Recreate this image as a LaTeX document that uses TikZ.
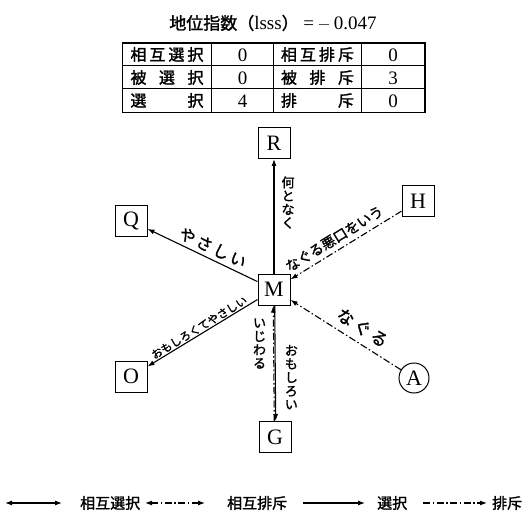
\documentclass[tikz,border=0pt]{standalone}
\usepackage{fontspec}
\setmainfont{Liberation Serif}
\newfontfamily\cjk[AutoFakeBold=1.6]{Noto Sans CJK JP}
\usetikzlibrary{arrows.meta}
\newcommand\jdist[1]{\makebox[73pt][s]{#1}}
\tikzset{
  lt/.style={draw, line width=1pt, minimum width=32pt, minimum height=31pt, inner sep=0pt, font=\fontsize{22}{22}\selectfont},
  circ/.style={draw, circle, line width=1pt, minimum size=30pt, inner sep=0pt, font=\fontsize{22}{22}\selectfont},
  tip/.style={-{Latex[length=7pt,width=5pt]}},
  sel/.style={line width=1.1pt, tip},
  rej/.style={line width=1.1pt, dash pattern=on 7pt off 2.5pt on 1.5pt off 2.5pt, tip},
  jl/.style={font=\cjk\bfseries\fontsize{13}{13.5}\selectfont, inner sep=1pt, align=center},
  cell/.style={font=\cjk\bfseries\fontsize{16}{16}\selectfont, inner sep=0pt},
  num/.style={font=\fontsize{19}{19}\selectfont, inner sep=0pt},
  leg/.style={font=\cjk\bfseries\fontsize{15}{15}\selectfont, inner sep=0pt, anchor=west},
}
\begin{document}
\begin{tikzpicture}[x=1pt,y=-1pt]
\useasboundingbox (0,0) rectangle (523,519);
% title
\node[inner sep=0pt, font=\fontsize{19}{19}\selectfont] (title) at (273,23) {{\cjk\bfseries\fontsize{17}{17}\selectfont 地位指数（}lsss{\cjk\bfseries\fontsize{17}{17}\selectfont ）}\ =\,$-$\,0.047};
% table
\draw[line width=1.5pt] (122.7,43) rectangle (425,112.5);
\draw[line width=1pt] (122.7,66) -- (425,66) (122.7,89) -- (425,89);
\draw[line width=1.2pt] (211.7,43) -- (211.7,112.5) (273.3,43) -- (273.3,112.5) (361.7,43) -- (361.7,112.5);
\node[cell] (a1) at (167,54.5) {\jdist{相\hfill 互\hfill 選\hfill 択}};
\node[cell] (a2) at (167,77.5) {\jdist{被\hfill 選\hfill 択}};
\node[cell] (a3) at (167,100.5) {\jdist{選\hfill 択}};
\node[num] (b1) at (242.5,55) {0};
\node[num] (b2) at (242.5,78) {0};
\node[num] (b3) at (242.5,101) {4};
\node[cell] (c1) at (317.5,54.5) {\jdist{相\hfill 互\hfill 排\hfill 斥}};
\node[cell] (c2) at (317.5,77.5) {\jdist{被\hfill 排\hfill 斥}};
\node[cell] (c3) at (317.5,100.5) {\jdist{排\hfill 斥}};
\node[num] (d1) at (393,55) {0};
\node[num] (d2) at (393,78) {3};
\node[num] (d3) at (393,101) {0};
% nodes
\node[lt] (M) at (274,289.5) {M};
\node[lt] (R) at (274,143) {R};
\node[lt] (Q) at (131,221) {Q};
\node[lt] (H) at (418,201) {H};
\node[lt] (O) at (131,376.5) {O};
\node[lt] (G) at (275,437) {G};
\node[circ] (A) at (414,378) {A};
% edges
\draw[sel] (M) -- (R) node[jl, pos=0.62, right=6pt] {何\\と\\な\\く};
\draw[sel] (M) -- (Q) node[jl, pos=0.45, sloped, above=3pt, font=\cjk\bfseries\fontsize{16}{16}\selectfont] {や\,さ\,し\,い};
\draw[sel] (M) -- (O) node[jl, pos=0.5, sloped, above=0pt, font=\cjk\bfseries\fontsize{11}{11}\selectfont] {おもしろくてやさしい};
\draw[rej] (H) -- (M) node[jl, pos=0.55, sloped, above=4pt, font=\cjk\bfseries\fontsize{14}{14}\selectfont] {なぐる悪口をいう};
\draw[rej] (A) -- (M) node[jl, pos=0.42, sloped, above=6pt, font=\cjk\bfseries\fontsize{17}{17}\selectfont] {な\,ぐ\,る};
\draw[sel] ([xshift=0.7pt]M.south) -- ([xshift=0.7pt]G.north) node[jl, pos=0.62, right=8pt] {お\\も\\し\\ろ\\い};
\draw[rej] ([xshift=-0.7pt]G.north) -- ([xshift=-0.7pt]M.south) node[jl, pos=0.67, left=6pt] {い\\じ\\わ\\る};
% legend
\coordinate (l1a) at (5,503); \coordinate (l1b) at (62,503);
\coordinate (l2a) at (145,503); \coordinate (l2b) at (205,503);
\coordinate (l3a) at (303,503); \coordinate (l3b) at (365,503);
\coordinate (l4a) at (423,503); \coordinate (l4b) at (487,503);
\draw[line width=1.1pt, {Latex[length=7pt,width=5pt]}-{Latex[length=7pt,width=5pt]}] (l1a) -- (l1b);
\draw[line width=1.1pt, dash pattern=on 7pt off 2.5pt on 1.5pt off 2.5pt, {Latex[length=7pt,width=5pt]}-{Latex[length=7pt,width=5pt]}] (l2a) -- (l2b);
\draw[sel] (l3a) -- (l3b);
\draw[rej] (l4a) -- (l4b);
\node[leg] (g1) at (80,503) {相互選択};
\node[leg] (g2) at (227,503) {相互排斥};
\node[leg] (g3) at (377,503) {選択};
\node[leg] (g4) at (492,503) {排斥};
\end{tikzpicture}
\end{document}
